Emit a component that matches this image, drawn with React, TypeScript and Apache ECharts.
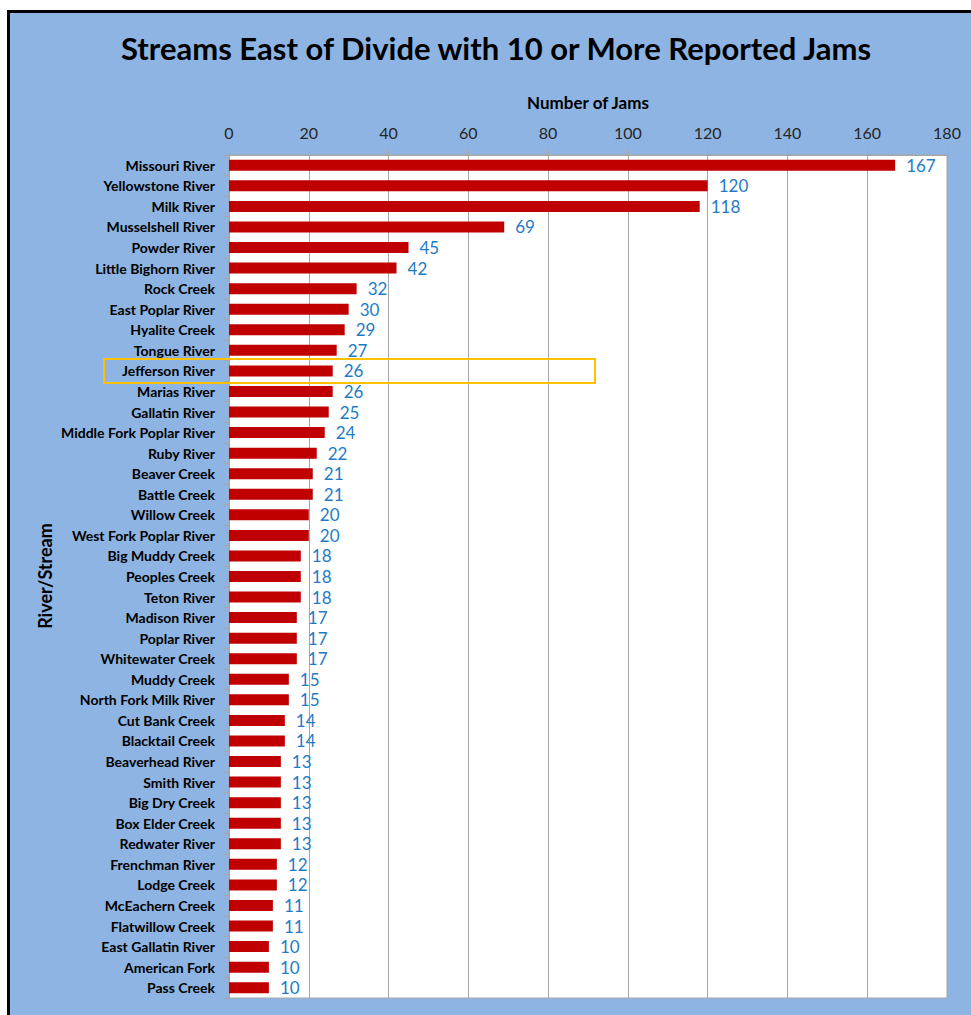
import React, { useEffect, useRef } from "react";
import * as echarts from "echarts";

const categories: string[] = [
  "Missouri River", "Yellowstone River", "Milk River", "Musselshell River", "Powder River",
  "Little Bighorn River", "Rock Creek", "East Poplar River", "Hyalite Creek", "Tongue River",
  "Jefferson River", "Marias River", "Gallatin River", "Middle Fork Poplar River", "Ruby River",
  "Beaver Creek", "Battle Creek", "Willow Creek", "West Fork Poplar River", "Big Muddy Creek",
  "Peoples Creek", "Teton River", "Madison River", "Poplar River", "Whitewater Creek",
  "Muddy Creek", "North Fork Milk River", "Cut Bank Creek", "Blacktail Creek", "Beaverhead River",
  "Smith River", "Big Dry Creek", "Box Elder Creek", "Redwater River", "Frenchman River",
  "Lodge Creek", "McEachern Creek", "Flatwillow Creek", "East Gallatin River", "American Fork",
  "Pass Creek",
];

const jams: number[] = [
  167, 120, 118, 69, 45,
  42, 32, 30, 29, 27,
  26, 26, 25, 24, 22,
  21, 21, 20, 20, 18,
  18, 18, 17, 17, 17,
  15, 15, 14, 14, 13,
  13, 13, 13, 13, 12,
  12, 11, 11, 10, 10,
  10,
];

const xTicks = { min: 0, max: 180, interval: 20 };

const FONT = "Lato, 'Open Sans', sans-serif";

export default function App() {
  const ref = useRef<HTMLDivElement>(null);

  useEffect(() => {
    document.body.style.margin = "0";
    if (!ref.current) return;
    const chart = echarts.init(ref.current, undefined, { renderer: "svg" });
    chart.setOption({
      animation: false,
      backgroundColor: "#ffffff",
      textStyle: { fontFamily: FONT },
      graphic: [
        {
          type: "rect",
          z: -10,
          silent: true,
          shape: { x: 8.5, y: 11.5, width: 1100, height: 1100 },
          style: { fill: "#8db4e2", stroke: "#000000", lineWidth: 3 },
        },
        {
          type: "text",
          x: 496,
          y: 48,
          style: {
            text: "Streams East of Divide with 10 or More Reported Jams",
            font: `bold 31px ${FONT}`,
            fill: "#000000",
            align: "center",
            verticalAlign: "middle",
          },
        },
        {
          type: "text",
          x: 45,
          y: 576,
          rotation: Math.PI / 2,
          style: {
            text: "River/Stream",
            font: `bold 18px ${FONT}`,
            fill: "#000000",
            align: "center",
            verticalAlign: "middle",
          },
        },
        {
          type: "rect",
          z: 100,
          shape: { x: 104, y: 359, width: 491, height: 24 },
          style: { fill: "none", stroke: "#ffc000", lineWidth: 2 },
        },
      ],
      grid: {
        left: 229,
        right: 24,
        top: 155,
        bottom: 17,
        show: true,
        backgroundColor: "#ffffff",
        borderColor: "#a6a6a6",
        borderWidth: 1,
        containLabel: false,
      },
      xAxis: {
        type: "value",
        position: "top",
        min: xTicks.min,
        max: xTicks.max,
        interval: xTicks.interval,
        name: "Number of Jams",
        nameLocation: "middle",
        nameGap: 44,
        nameTextStyle: { fontFamily: FONT, fontWeight: "bold", fontSize: 17, color: "#000000" },
        axisLine: { show: true, lineStyle: { color: "#a6a6a6" } },
        axisTick: { show: true, inside: false, length: 5, lineStyle: { color: "#a6a6a6" } },
        axisLabel: { fontFamily: FONT, fontSize: 16, color: "#262626", margin: 15 },
        splitLine: { show: true, lineStyle: { color: "#a6a6a6", width: 1 } },
      },
      yAxis: {
        type: "category",
        data: categories,
        inverse: true,
        axisLine: { show: true, lineStyle: { color: "#a6a6a6" } },
        axisTick: { show: true, length: 5, lineStyle: { color: "#a6a6a6" } },
        axisLabel: {
          fontFamily: FONT,
          fontWeight: "bold",
          fontSize: 14,
          color: "#000000",
          margin: 14,
          interval: 0,
        },
        splitLine: { show: false },
      },
      series: [
        {
          type: "bar",
          data: jams,
          barWidth: 11,
          itemStyle: { color: "#c00000" },
          label: {
            show: true,
            position: "right",
            distance: 11,
            fontFamily: FONT,
            fontSize: 17,
            color: "#1f7bc6",
          },
        },
      ],
    });
    return () => chart.dispose();
  }, []);

  return <div ref={ref} style={{ width: 971, height: 1015 }} />;
}
